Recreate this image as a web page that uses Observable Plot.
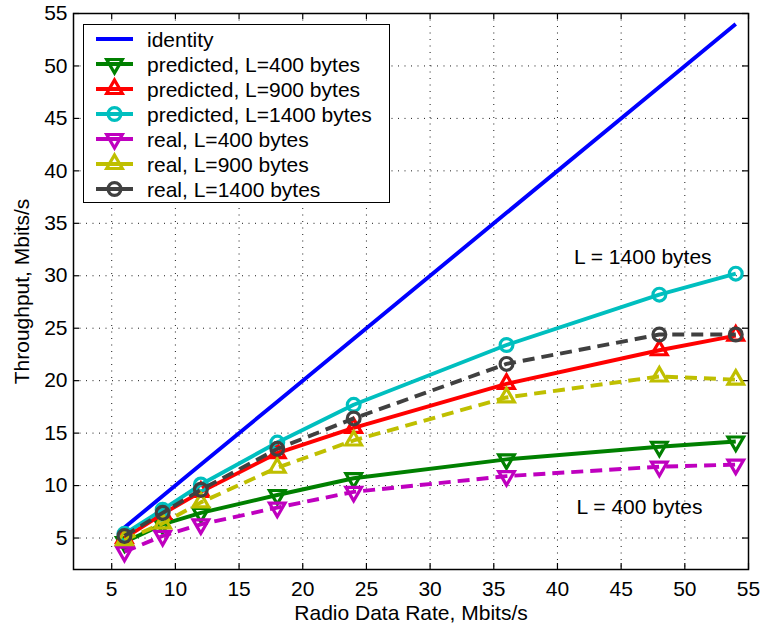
<!DOCTYPE html>
<html><head><meta charset="utf-8">
<script src="https://cdn.jsdelivr.net/npm/d3@7"></script>
<script src="https://cdn.jsdelivr.net/npm/@observablehq/plot@0.6"></script>
<style>
body{margin:0;background:#fff;}
#wrap{position:relative;width:762px;height:628px;font-family:"Liberation Sans",Arial,Helvetica,sans-serif;}
#legend{position:absolute;left:83px;top:24px;width:305px;height:177px;border:1.5px solid #000;background:#fff;}
</style></head><body><div id="wrap"></div>
<script>
// ---- data ----
const rates = [6, 9, 12, 18, 24, 36, 48, 54];
const identity = [6, 9, 12, 18, 24, 36, 48, 54];
const predicted400 = [4.6, 6.3, 7.4, 9.1, 10.7, 12.5, 13.7, 14.2];
const predicted900 = [5.0, 7.3, 9.4, 13.1, 15.5, 19.7, 22.9, 24.3];
const predicted1400 = [5.4, 7.7, 10.1, 14.1, 17.7, 23.4, 28.2, 30.2];
const real400 = [3.7, 5.2, 6.3, 7.9, 9.4, 10.9, 11.8, 12.0];
const real900 = [4.8, 6.4, 8.4, 11.7, 14.3, 18.4, 20.4, 20.1];
const real1400 = [5.2, 7.4, 9.6, 13.5, 16.4, 21.6, 24.4, 24.4];
const seriesNames = ["identity", "predicted, L=400 bytes", "predicted, L=900 bytes", "predicted, L=1400 bytes", "real, L=400 bytes", "real, L=900 bytes", "real, L=1400 bytes"];
const xTicks = [5, 10, 15, 20, 25, 30, 35, 40, 45, 50, 55];
const yTicks = [5, 10, 15, 20, 25, 30, 35, 40, 45, 50, 55];
const xLabel = "Radio Data Rate, Mbits/s";
const yLabel = "Throughput, Mbits/s";
const annotationText = ["L = 1400 bytes", "L = 400 bytes"];
const annotationX = [41.3, 41.5];
const annotationY = [31.8, 7.9];

// ---- styles ----
const seriesValues = [identity, predicted400, predicted900, predicted1400, real400, real900, real1400];
const colors = ["#0000ff", "#008000", "#ff0000", "#00bfbf", "#bf00bf", "#bfbf00", "#404040"];
const dashes = [null, null, null, null, "12,7", "12,7", "12,7"];
const symbols = [null, "down", "up", "circle", "down", "up", "circle"];

const W = 762, H = 628;
const mL = 73, mR = 14, mT = 13, mB = 59;
const plotW = W - mL - mR, plotH = H - mT - mB;
const FS = 21;
const TRI_R = 5.8;
const CIRC_R = 6.4;
const LW = 3.9;
const MW = 3.2;

const series = seriesNames.map((name, i) => ({
  name, color: colors[i], dash: dashes[i], symbol: symbols[i],
  rows: rates.map((x, j) => ({x, y: seriesValues[i][j]}))
}));

const marks = [
  Plot.gridX(xTicks, {stroke: "#000", strokeOpacity: 0.9, strokeWidth: 1, strokeDasharray: "1,5.5"}),
  Plot.gridY(yTicks, {stroke: "#000", strokeOpacity: 0.9, strokeWidth: 1, strokeDasharray: "1,5.5"}),
  Plot.tickX(xTicks, {x: d => d, insetTop: plotH - 6, stroke: "#000", strokeWidth: 1.2}),
  Plot.tickX(xTicks, {x: d => d, insetBottom: plotH - 6, stroke: "#000", strokeWidth: 1.2}),
  Plot.tickY(yTicks, {y: d => d, insetRight: plotW - 6, stroke: "#000", strokeWidth: 1.2}),
  Plot.tickY(yTicks, {y: d => d, insetLeft: plotW - 6, stroke: "#000", strokeWidth: 1.2}),
  Plot.axisX(xTicks, {tickSize: 0, tickPadding: 12, fontSize: FS, label: null, fill: "#000"}),
  Plot.axisY(yTicks, {tickSize: 0, tickPadding: 6, fontSize: FS, label: null, fill: "#000"}),
];

for (const s of series) {
  marks.push(Plot.line(s.rows, {x: "x", y: "y", stroke: s.color, strokeWidth: LW, strokeDasharray: s.dash, strokeLinecap: "butt"}));
  if (s.symbol === "circle") {
    marks.push(Plot.dot(s.rows, {x: "x", y: "y", r: CIRC_R, stroke: s.color, strokeWidth: MW, fill: "none"}));
  } else if (s.symbol) {
    marks.push(Plot.dot(s.rows, {x: "x", y: "y", symbol: "triangle", r: TRI_R, rotate: s.symbol === "down" ? 180 : 0, stroke: s.color, strokeWidth: MW, fill: "none"}));
  }
}

marks.push(
  Plot.frame({stroke: "#000", strokeWidth: 1.5}),
  Plot.text(annotationText, {x: (d, i) => annotationX[i], y: (d, i) => annotationY[i], text: d => d, textAnchor: "start", lineAnchor: "middle", fontSize: FS, fill: "#000"}),
  Plot.text([xLabel], {text: d => d, frameAnchor: "bottom", lineAnchor: "middle", textAnchor: "middle", dy: 44, fontSize: FS, fill: "#000"}),
  Plot.text([yLabel], {text: d => d, frameAnchor: "left", lineAnchor: "middle", textAnchor: "middle", dx: -51, rotate: -90, fontSize: FS, fill: "#000"})
);

const chart = Plot.plot({
  width: W, height: H,
  marginLeft: mL, marginRight: mR, marginTop: mT, marginBottom: mB,
  style: {fontFamily: '"Liberation Sans", Arial, Helvetica, sans-serif', background: "#fff", color: "#000"},
  x: {domain: [2, 55], axis: null},
  y: {domain: [2, 55], axis: null},
  marks
});
const wrap = document.getElementById("wrap");
wrap.appendChild(chart);

// ---- legend ----
const leg = document.createElement("div");
leg.id = "legend";
wrap.appendChild(leg);
const lsvg = d3.select(leg).append("svg").attr("width", 305).attr("height", 177);
series.forEach((s, i) => {
  const cy = 14 + 25 * i;
  const g = lsvg.append("g");
  g.append("line").attr("x1", 12).attr("x2", 49).attr("y1", cy).attr("y2", cy)
    .attr("stroke", s.color).attr("stroke-width", LW);
  if (s.symbol === "circle") {
    g.append("circle").attr("cx", 30.5).attr("cy", cy).attr("r", CIRC_R)
      .attr("stroke", s.color).attr("stroke-width", MW).attr("fill", "none");
  } else if (s.symbol) {
    g.append("path").attr("d", d3.symbol(d3.symbolTriangle, Math.PI * TRI_R * TRI_R)())
      .attr("transform", `translate(30.5,${cy}) rotate(${s.symbol === "down" ? 180 : 0})`)
      .attr("stroke", s.color).attr("stroke-width", MW).attr("fill", "none");
  }
  g.append("text").attr("x", 63).attr("y", cy).attr("dy", "0.36em")
    .attr("font-size", FS).attr("fill", "#000")
    .style("font-family", '"Liberation Sans", Arial, Helvetica, sans-serif')
    .text(s.name);
});
</script></body></html>
